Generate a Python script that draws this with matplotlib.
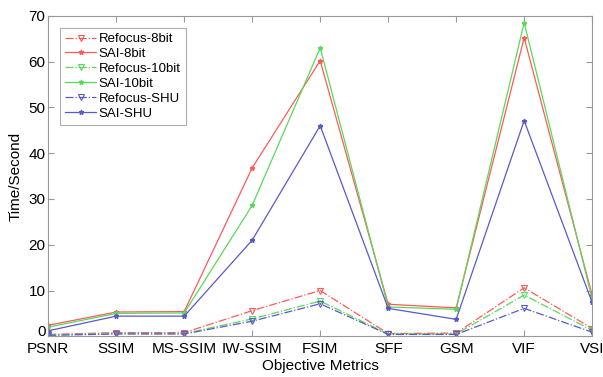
import numpy as np
import matplotlib.pyplot as plt
import matplotlib.transforms as mtransforms

plt.rcParams['font.family'] = ['Liberation Sans', 'DejaVu Sans']

metrics = ['PSNR', 'SSIM', 'MS-SSIM', 'IW-SSIM', 'FSIM', 'SFF', 'GSM', 'VIF', 'VSI']

refocus_8bit = [0.4, 0.8, 0.8, 5.6, 10.0, 0.6, 0.7, 10.6, 1.7]
sai_8bit = [2.4, 5.3, 5.4, 36.8, 60.2, 7.0, 6.2, 65.2, 9.0]
refocus_10bit = [0.3, 0.6, 0.6, 3.8, 7.7, 0.5, 0.5, 9.0, 1.3]
sai_10bit = [2.0, 5.0, 5.1, 28.6, 63.0, 6.4, 5.9, 68.5, 8.2]
refocus_shu = [0.2, 0.5, 0.5, 3.3, 7.1, 0.4, 0.4, 6.1, 0.9]
sai_shu = [1.2, 4.4, 4.4, 21.0, 46.0, 6.1, 3.7, 47.1, 7.4]

red = (1.0, 0.35, 0.35)
green = (0.35, 0.85, 0.35)
blue = (0.35, 0.35, 0.8)

x = np.arange(1, len(metrics) + 1)

fig = plt.figure(figsize=(6.03, 3.77), dpi=100)
ax = fig.add_axes([0.080, 0.108, 0.902, 0.850])

series = [
    ('Refocus-8bit', refocus_8bit, red, '-.', 'v'),
    ('SAI-8bit', sai_8bit, red, '-', '*'),
    ('Refocus-10bit', refocus_10bit, green, '-.', 'v'),
    ('SAI-10bit', sai_10bit, green, '-', '*'),
    ('Refocus-SHU', refocus_shu, blue, '-.', 'v'),
    ('SAI-SHU', sai_shu, blue, '-', '*'),
]

for name, vals, col, ls, mk in series:
    if mk == 'v':
        ax.plot(x, vals, ls, color=col, lw=0.9, marker=mk, ms=4,
                mfc='none', mec=col, mew=0.8, label=name)
    else:
        ax.plot(x, vals, ls, color=col, lw=0.9, marker=mk, ms=3.5,
                mfc=col, mec=col, label=name)

ax.set_xlim(1, 9)
ax.set_ylim(0, 70)
ax.set_xticks(x)
ax.set_xticklabels(metrics)
ax.set_yticks(np.arange(0, 71, 10))
ax.tick_params(direction='in', top=True, right=True, labelsize=11,
               color='#999999', length=4)
ax.tick_params(axis='x', pad=4)
ax.tick_params(axis='y', pad=2)
for s in ax.spines.values():
    s.set_color('#999999')

# nudge the "0" label up a little so it sits above PSNR
zero_lbl = ax.get_yticklabels()[0]
zero_lbl.set_transform(zero_lbl.get_transform() +
                       mtransforms.ScaledTranslation(0, 4 / 72, fig.dpi_scale_trans))

ax.set_xlabel('Objective Metrics', fontsize=11, labelpad=2)
ax.set_ylabel('Time/Second', fontsize=11, labelpad=4)

leg = ax.legend(loc='upper left', fontsize=9.5, fancybox=False,
                edgecolor='#999999', handlelength=2.3, handletextpad=0.2,
                labelspacing=0.2, borderaxespad=0.9, borderpad=0.4)
leg.get_frame().set_linewidth(0.8)

fig.savefig('out.png', dpi=100)
